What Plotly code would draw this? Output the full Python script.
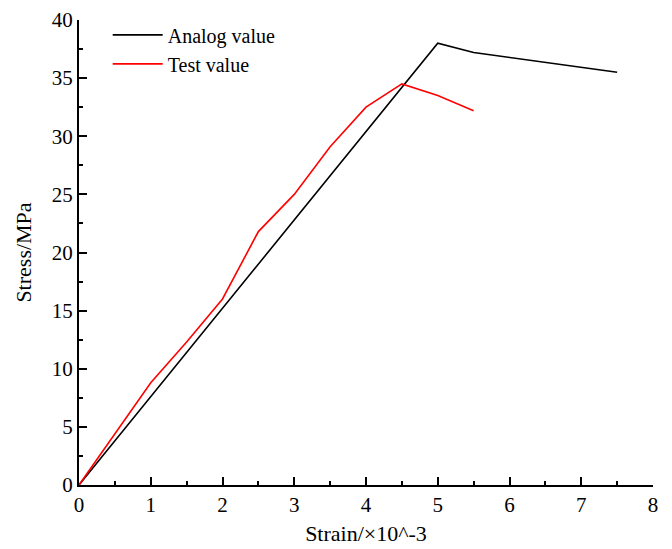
import plotly.graph_objects as go

analog_x = [0, 5, 5.5, 7.5]
analog_y = [0, 38, 37.2, 35.5]
test_x = [0, 1, 1.5, 2, 2.5, 3, 3.5, 4, 4.5, 5, 5.5]
test_y = [0, 8.8, 12.3, 16.0, 21.8, 25.0, 29.1, 32.5, 34.5, 33.5, 32.2]

font = "Liberation Serif, Times New Roman, serif"

fig = go.Figure()
fig.add_trace(go.Scatter(x=analog_x, y=analog_y, mode="lines", name="Analog value",
                         line=dict(color="black", width=1.6)))
fig.add_trace(go.Scatter(x=test_x, y=test_y, mode="lines", name="Test value",
                         line=dict(color="red", width=1.6)))

axis_common = dict(
    showgrid=False, zeroline=False, showline=True, linecolor="black", linewidth=2,
    ticks="inside", ticklen=8, tickwidth=2, tickcolor="black",
    tickfont=dict(family=font, size=21, color="black"),
    title_font=dict(family=font, size=22, color="black"),
    mirror=False, automargin=False,
)

fig.update_xaxes(range=[0, 8], dtick=1, tick0=0,
                 title_text="Strain/×10^-3", title_standoff=9,
                 minor=dict(dtick=0.5, ticks="inside", ticklen=4, tickwidth=2, tickcolor="black"),
                 **axis_common)
fig.update_yaxes(range=[0, 40], dtick=5, tick0=0,
                 title_text="Stress/MPa", title_standoff=14,
                 minor=dict(dtick=2.5, ticks="inside", ticklen=4, tickwidth=2, tickcolor="black"),
                 **axis_common)

fig.update_layout(
    width=672, height=549,
    margin=dict(l=79, r=19, t=20, b=64),
    plot_bgcolor="white", paper_bgcolor="white",
    font=dict(family=font, size=21, color="black"),
    legend=dict(x=0.05, y=1.01, xanchor="left", yanchor="top",
                bgcolor="rgba(0,0,0,0)", font=dict(family=font, size=20),
                tracegroupgap=0, itemwidth=50),
    showlegend=True,
)

fig.write_html("out.html")
